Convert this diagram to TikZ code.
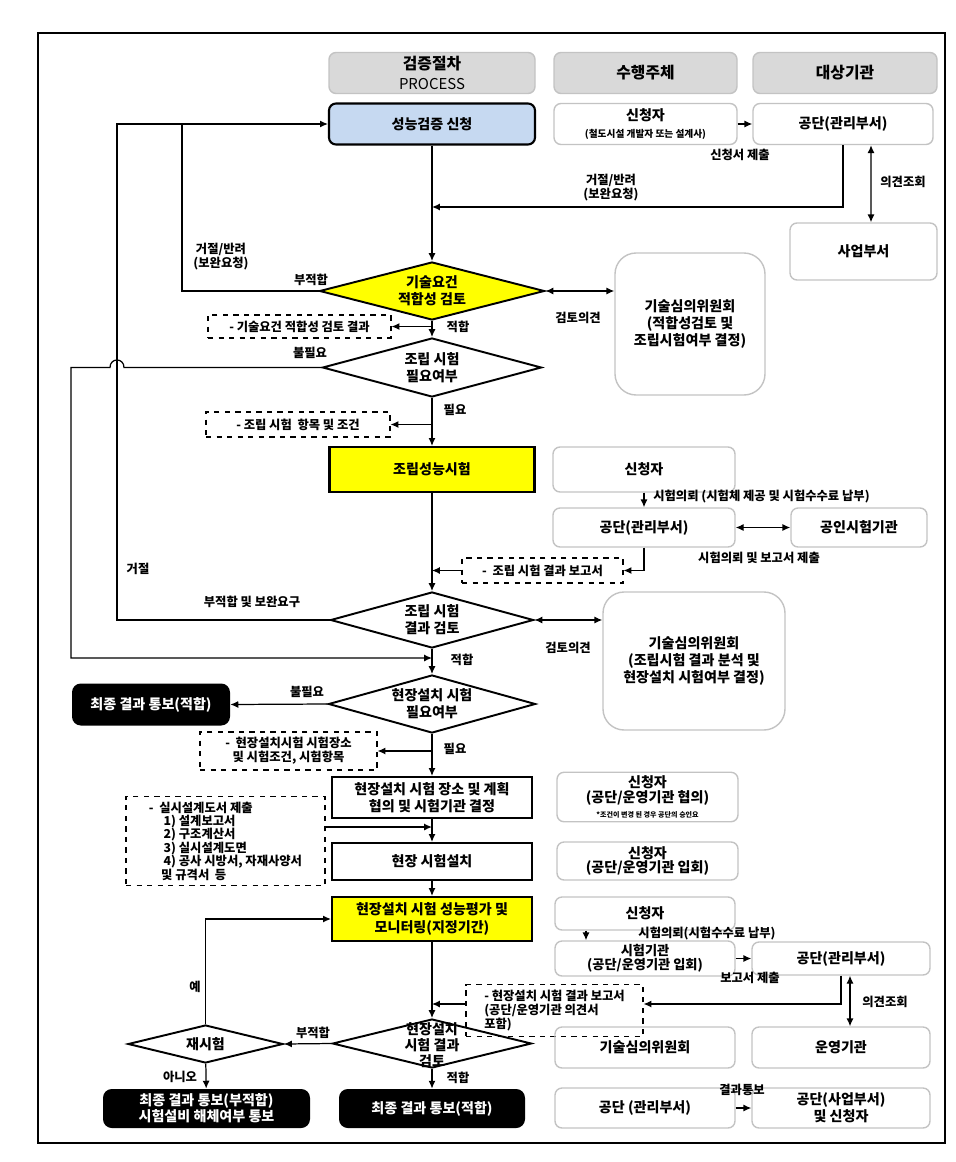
\documentclass[tikz,border=0pt]{standalone}
\usepackage{fontspec}
\setmainfont{Noto Sans CJK KR}
\usepackage{tikz}
\usetikzlibrary{shapes.geometric,arrows.meta,calc}
\definecolor{hdgray}{RGB}{217,217,217}
\definecolor{edgegray}{RGB}{195,195,195}
\definecolor{reqblue}{RGB}{198,217,241}
\definecolor{testyellow}{RGB}{255,255,0}

\begin{document}
\begin{tikzpicture}[x=0.2mm, y=-0.2mm,
    >={Latex[length=4.5pt,width=4pt]},
    sz/.style 2 args={minimum width=#1*0.2mm, minimum height=#2*0.2mm},
    hdr/.style={draw=edgegray, fill=hdgray, rounded corners=4pt, line width=0.8pt, align=center, inner sep=1pt, font=\fontsize{9}{11}\selectfont\bfseries},
    proc/.style={draw, line width=1.2pt, align=center, inner sep=2pt, font=\fontsize{8}{10}\selectfont\bfseries},
    side/.style={draw=edgegray, rounded corners=4pt, line width=0.8pt, align=center, inner sep=2pt, font=\fontsize{8}{9.5}\selectfont\bfseries},
    dia/.style={diamond, draw, line width=1.1pt, inner sep=0pt},
    dtxt/.style={align=center, inner sep=0pt, font=\fontsize{8}{9.6}\selectfont\bfseries},
    memo/.style={draw, dashed, line width=0.6pt, inner sep=3pt, font=\fontsize{7}{8}\selectfont\bfseries},
    result/.style={fill=black, text=white, rounded corners=5pt, align=center, inner sep=2pt, font=\fontsize{8}{9}\selectfont\bfseries},
    lbl/.style={align=center, inner sep=0pt, font=\fontsize{7}{8}\selectfont\bfseries},
    flow/.style={->, line width=0.7pt},
    dflow/.style={<->, line width=0.7pt},
    link/.style={line width=0.7pt}]
    \useasboundingbox (0,0) rectangle (955,1162);
    % Outer frame
    \draw[line width=1.6pt] (38,33) rectangle (945,1143);

    % Column headers
    \node[hdr, sz={206}{41}] (hproc) at (432,73) {검증절차\\{\mdseries\fontsize{8.5}{10}\selectfont PROCESS}};
    \node[hdr, sz={183}{41}] (hexec) at (645.5,73) {수행주체};
    \node[hdr, sz={184}{41}] (htgt) at (845,73) {대상기관};

    % Application
    \node[proc, fill=reqblue, rounded corners=4pt, sz={206}{41}] (apply) at (432,124) {성능검증 신청};
    \node[side, sz={183}{41}] (appl1) at (645.5,124) {신청자\\{\fontsize{5.5}{6.5}\selectfont (철도시설 개발자 또는 설계사)}};
    \node[side, sz={180}{41}] (kr1) at (843,124) {공단(관리부서)};
    \node[side, sz={147}{57}] (biz) at (863.5,251.5) {사업부서};
    \node[lbl] (lsub) at (740,155) {신청서 제출};
    \node[lbl] (lrej1) at (611,188) {거절/반려\\(보완요청)};
    \node[lbl] (lask1) at (903,182) {의견조회};

    % Requirement check
    \node[dia, fill=testyellow, sz={225}{58}] (d1) at (432,291) {};
    \node[dtxt] (d1t) at (d1) {기술요건\\적합성 검토};
    \node[side, rounded corners=12pt, sz={150}{142}] (tech1) at (690,324) {기술심의위원회\\(적합성검토 및\\조립시험여부 결정)};
    \node[memo, sz={183}{23}] (drc1) at (299.5,326.5) {- 기술요건 적합성 검토 결과};
    \node[lbl] (lrej2) at (221,257) {거절/반려\\(보완요청)};
    \node[lbl] (lnf1) at (311,280) {부적합};
    \node[lbl] (lrev1) at (578,318) {검토의견};
    \node[lbl] (lok1) at (458,327) {적합};

    % Assembly test need
    \node[dia, sz={219}{59}] (d2) at (432,367.5) {};
    \node[dtxt] (d2t) at (d2) {조립 시험\\필요여부};
    \node[lbl] (lnn1) at (310,353) {불필요};
    \node[lbl] (lneed1) at (455,410) {필요};
    \node[memo, sz={184}{25}] (drc2) at (298,424.5) {- 조립 시험\ \ 항목 및 조건};

    % Assembly test
    \node[proc, fill=testyellow, sz={205}{45}] (asm) at (432,469.5) {조립성능시험};
    \node[side, sz={182}{45}] (appl2) at (644,469.5) {신청자};
    \node[side, sz={182}{39}] (kr2) at (644,527.5) {공단(관리부서)};
    \node[side, sz={136}{39}] (lab) at (859,527.5) {공인시험기관};
    \node[lbl, anchor=west] (lreq1) at (653,497) {시험의뢰 (시험체 제공 및 시험수수료 납부)};
    \node[lbl] (lrep1) at (759,558) {시험의뢰 및 보고서 제출};
    \node[memo, sz={161}{25}] (drc3) at (542.5,570.5) {-\ \ 조립 시험 결과 보고서};

    % Assembly result review
    \node[dia, sz={203}{56}] (d3) at (432,620) {};
    \node[dtxt] (d3t) at (d3) {조립 시험\\결과 검토};
    \node[side, rounded corners=12pt, sz={182}{138}] (tech2) at (694,661) {기술심의위원회\\(조립시험 결과 분석 및\\현장설치 시험여부 결정)};
    \node[lbl] (lrej3) at (138,569) {거절};
    \node[lbl] (lnf2) at (252,602) {부적합 및 보완요구};
    \node[lbl] (lrev2) at (568,648) {검토의견};
    \node[lbl] (lok2) at (462,660) {적합};

    % Field test need
    \node[dia, sz={207}{58}] (d4) at (432,704) {};
    \node[dtxt] (d4t) at (d4) {현장설치 시험\\필요여부};
    \node[result, sz={158}{42}] (fin1) at (151,704.5) {최종 결과 통보(적합)};
    \node[lbl] (lnn2) at (307,692) {불필요};
    \node[lbl] (lneed2) at (455,749) {필요};
    \node[memo, align=center, sz={177}{38}] (drc4) at (288.5,751) {-\ \ 현장설치시험 시험장소\\및 시험조건, 시험항목};

    % Field test plan and install
    \node[proc, sz={200}{41}] (plan) at (432,797.5) {현장설치 시험 장소 및 계획\\협의 및 시험기관 결정};
    \node[side, font=\fontsize{8}{8.5}\selectfont\bfseries, sz={181}{44}] (appl3) at (647.5,797) {신청자\\(공단/운영기관 협의)\\{\fontsize{4}{5}\selectfont *조건이 변경 된 경우 공단의 승인요}};
    \node[memo, align=left, font=\fontsize{7}{7.6}\selectfont\bfseries, sz={199}{88}] (drc5) at (225.5,841) {-\ \ 실시설계도서 제출\\\hspace*{1.2em}1) 설계보고서\\\hspace*{1.2em}2) 구조계산서\\\hspace*{1.2em}3) 실시설계도면\\\hspace*{1.2em}4) 공사 시방서, 자재사양서\\\hspace*{1em}및 규격서\ \ 등};
    \node[proc, sz={200}{37}] (inst) at (432,861.5) {현장 시험설치};
    \node[side, font=\fontsize{8}{8.5}\selectfont\bfseries, sz={181}{38}] (appl4) at (647.5,861) {신청자\\(공단/운영기관 입회)};

    % Field evaluation
    \node[proc, fill=testyellow, sz={200}{44}] (eval) at (432,919) {현장설치 시험 성능평가 및\\모니터링(지정기간)};
    \node[side, sz={180}{33}] (appl5) at (645,913.5) {신청자};
    \node[side, font=\fontsize{7.5}{8}\selectfont\bfseries, sz={180}{33}] (tlab) at (645,958.5) {시험기관\\(공단/운영기관 입회)};
    \node[side, sz={178}{33}] (kr3) at (841,958.5) {공단(관리부서)};
    \node[lbl] (lreq2) at (707,934) {시험의뢰(시험수수료 납부)};
    \node[lbl] (lrep2) at (750,978) {보고서 제출};
    \node[lbl] (lask2) at (885,1002) {의견조회};

    % Field result review
    \node[dia, sz={199}{49}] (d5) at (432,1043.5) {};
    \node[dtxt, font=\fontsize{8}{9}\selectfont\bfseries] (d5t) at (432,1045) {현장설치\\시험 결과\\검토};
    \node[memo, align=left, sz={177}{47}] (drc6) at (554.5,1010.5) {- 현장설치 시험 결과 보고서\\(공단/운영기관 의견서\\포함)};
    \node[side, sz={180}{41}] (tech3) at (645,1047.5) {기술심의위원회};
    \node[side, sz={178}{41}] (ops) at (841,1047.5) {운영기관};
    \node[dia, sz={155}{38}] (retest) at (205.5,1044) {};
    \node[dtxt] (rt) at (retest) {재시험};
    \node[lbl] (lyes) at (195,987) {예};
    \node[lbl] (lnf3) at (313,1033) {부적합};
    \node[lbl] (lno) at (180,1077) {아니오};
    \node[lbl] (lok3) at (458,1078) {적합};

    % Final notice
    \node[result, sz={207}{39}] (fin2) at (206.5,1108.5) {최종 결과 통보(부적합)\\시험설비 해체여부 통보};
    \node[result, sz={186}{39}] (fin3) at (432,1108.5) {최종 결과 통보(적합)};
    \node[side, sz={180}{40}] (kr4) at (645,1108) {공단 (관리부서)};
    \node[side, sz={178}{40}] (notify) at (841,1108) {공단(사업부서)\\및 신청자};
    \node[lbl] (lnote) at (742,1090) {결과통보};

    % Loop coordinates
    \coordinate (j1) at (432,207);
    \coordinate (lp0) at (117,124);
    \coordinate (lp1) at (182,124);
    \coordinate (lp2) at (71,658);
    \coordinate (s5) at (432,827);
    \coordinate (s6) at (432,1004);

    % Arrows - application
    \draw[flow] (appl1) -- (kr1);
    \draw[flow] (kr1.south) |- (j1);
    \draw[dflow] ($(kr1.south)+(28,0)$) -- ($(biz.north)+(7.5,0)$);
    \draw[flow] (apply) -- (d1);
    \draw[link] (d1.west) -| (lp1);
    \draw[flow] (d3.west) -| (lp0) -- (apply.west);
    \draw[dflow] (d1.east) -- (d1.east -| tech1.west);
    \draw[flow] (drc1.east -| d1.south) -- (drc1.east);

    % Arrows - assembly test
    \draw[flow] (d1) -- (d2);
    \draw[flow] (d2.west) -- ($(d2.west -| lp0)+(7,0)$) .. controls +(0,-10) and +(0,-10) .. ($(d2.west -| lp0)+(-7,0)$) -| (lp2) -- (lp2 -| d3.south);
    \draw[flow] (drc2.east -| d2.south) -- (drc2.east);
    \draw[flow] (d2) -- (asm);
    \draw[flow] (asm) -- (d3);
    \draw[flow] (appl2) -- (kr2);
    \draw[dflow] (kr2) -- (lab);
    \draw[flow] (kr2.south) |- (drc3.east);
    \draw[flow] (drc3.west) -- (drc3.west -| asm.south);
    \draw[dflow] (d3.east) -- (d3.east -| tech2.west);

    % Arrows - field test
    \draw[flow] (d3) -- (d4);
    \draw[flow] (d4.west) -- (fin1.east);
    \draw[flow] (drc4.east -| d4.south) -- (drc4.east);
    \draw[flow] (d4) -- (plan);
    \draw[flow] (plan) -- (inst);
    \draw[flow] (s5 -| drc5.east) -- (s5);
    \draw[flow] (inst) -- (eval);
    \draw[flow] (eval) -- (d5);
    \draw[flow] ($(appl5.south)+(-59,0)$) -- ($(tlab.north)+(-59,0)$);
    \draw[flow] (tlab) -- (kr3);
    \draw[dflow] ($(kr3.south)+(9,0)$) -- ($(ops.north)+(9,0)$);
    \draw[flow] (kr3.south) |- (s6 -| drc6.east);
    \draw[flow] (s6 -| drc6.west) -- (s6);

    % Arrows - results
    \draw[flow] (d5.west) -- (retest.east);
    \draw[flow] (retest.north) |- (eval.west);
    \draw[flow] (retest) -- (fin2);
    \draw[flow] (d5) -- (fin3);
    \draw[flow] (kr4) -- (notify);
\end{tikzpicture}
\end{document}
